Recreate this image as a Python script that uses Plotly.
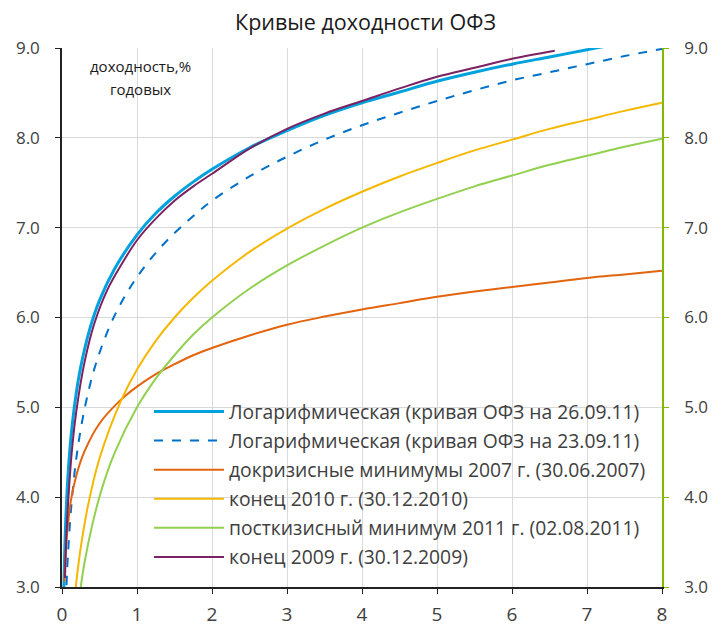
import plotly.graph_objects as go

# --- data (term in years, yield in % p.a.) ---
x_blue = [0.02, 0.03, 0.05, 0.08, 0.12, 0.18, 0.25, 0.37, 0.5, 0.7, 1, 1.25, 1.5, 1.75, 2, 2.5, 3, 3.5, 4, 4.5, 5, 5.5, 6, 6.5, 7, 7.5, 8]
y_blue = [2.77, 3.20, 3.74, 4.24, 4.67, 5.10, 5.45, 5.87, 6.19, 6.54, 6.92, 7.16, 7.35, 7.51, 7.65, 7.89, 8.08, 8.25, 8.39, 8.51, 8.63, 8.73, 8.82, 8.90, 8.98, 9.06, 9.12]

x_dash = [0.06, 0.08, 0.13, 0.2, 0.31, 0.45, 0.64, 0.8, 1, 1.25, 1.5, 1.75, 2, 2.5, 3, 3.5, 4, 4.5, 5, 5.5, 6, 6.5, 7, 7.5, 8]
y_dash = [3.02, 3.37, 3.96, 4.49, 5.02, 5.48, 5.91, 6.18, 6.45, 6.72, 6.94, 7.13, 7.30, 7.57, 7.79, 7.98, 8.14, 8.28, 8.41, 8.53, 8.64, 8.73, 8.82, 8.91, 8.99]

x_orange = [0.03, 0.05, 0.08, 0.12, 0.2, 0.3, 0.5, 0.78, 1, 1.25, 1.5, 1.75, 2, 2.5, 3, 3.5, 4, 4.5, 5, 5.5, 6, 6.5, 7, 7.5, 8]
y_orange = [3.06, 3.40, 3.70, 3.97, 4.27, 4.51, 4.82, 5.08, 5.23, 5.37, 5.48, 5.58, 5.66, 5.80, 5.92, 6.01, 6.09, 6.16, 6.23, 6.29, 6.34, 6.39, 6.44, 6.48, 6.52]

x_yellow = [0.18, 0.2, 0.25, 0.35, 0.5, 0.78, 1, 1.25, 1.5, 1.75, 2, 2.5, 3, 3.5, 4, 4.5, 5, 5.5, 6, 6.5, 7, 7.5, 8]
y_yellow = [2.97, 3.12, 3.44, 3.92, 4.43, 5.06, 5.42, 5.74, 6.00, 6.22, 6.41, 6.73, 6.99, 7.21, 7.40, 7.57, 7.72, 7.86, 7.98, 8.10, 8.20, 8.30, 8.39]

x_green = [0.25, 0.3, 0.4, 0.53, 0.7, 1, 1.25, 1.5, 1.75, 2, 2.5, 3, 3.5, 4, 4.5, 5, 5.5, 6, 6.5, 7, 7.5, 8]
y_green = [3.00, 3.27, 3.68, 4.09, 4.49, 5.00, 5.32, 5.58, 5.81, 6.00, 6.32, 6.58, 6.80, 7.00, 7.17, 7.32, 7.46, 7.58, 7.70, 7.80, 7.90, 7.99]

x_purple = [0.04, 0.06, 0.09, 0.13, 0.19, 0.3, 0.43, 0.6, 0.8, 1, 1.25, 1.5, 1.75, 2, 2.5, 3, 3.5, 4, 4.5, 5, 5.5, 6, 6.57]
y_purple = [3.10, 3.60, 4.05, 4.50, 4.95, 5.50, 5.93, 6.30, 6.60, 6.86, 7.10, 7.30, 7.46, 7.60, 7.88, 8.10, 8.27, 8.41, 8.55, 8.68, 8.78, 8.88, 8.97]

names = [
    "Логарифмическая (кривая ОФЗ на 26.09.11)",
    "Логарифмическая (кривая ОФЗ на 23.09.11)",
    "докризисные минимумы 2007 г. (30.06.2007)",
    "конец 2010 г. (30.12.2010)",
    "посткизисный минимум 2011 г. (02.08.2011)",
    "конец 2009 г. (30.12.2009)",
]
x_ticks = [0, 1, 2, 3, 4, 5, 6, 7, 8]
y_ticks = [3, 4, 5, 6, 7, 8, 9]

FONT = "Open Sans"
TXT = "#404040"

fig = go.Figure()
series = [
    (x_blue, y_blue, "#00A2DE", 3, "solid"),
    (x_dash, y_dash, "#0070C8", 2, "dash"),
    (x_orange, y_orange, "#E2640E", 2, "solid"),
    (x_yellow, y_yellow, "#F5B800", 2, "solid"),
    (x_green, y_green, "#92D050", 2, "solid"),
    (x_purple, y_purple, "#7A2262", 2, "solid"),
]
for i, ((xs, ys, col, w, dash), nm) in enumerate(zip(series, names)):
    fig.add_trace(go.Scatter(x=xs, y=ys, mode="lines", name=nm, legendgroup=f"g{i}",
                             line=dict(color=col, width=w, dash=dash, shape="spline", smoothing=1.0)))

# invisible trace for right axis
fig.add_trace(go.Scatter(x=[0, 8], y=[3, 9], yaxis="y2", mode="lines",
                         line=dict(width=0), showlegend=False, hoverinfo="skip", opacity=0))

fig.update_layout(
    width=715, height=620,
    margin=dict(l=54, r=61, t=40, b=41),
    paper_bgcolor="white", plot_bgcolor="white",
    font=dict(family=FONT, color=TXT, size=15),
    title=dict(text="Кривые доходности ОФЗ", x=0.5, xanchor="center", y=0.977, yanchor="middle",
               font=dict(family=FONT, size=21.5, color="#1a1a1a")),
    xaxis=dict(range=[0, 8], tickvals=x_ticks, showgrid=True, gridcolor="#d9d9d9", gridwidth=1,
               showline=True, linecolor="#222222", linewidth=1.5, ticks="outside", ticklen=5,
               tickcolor="#222222", zeroline=False, tickfont=dict(size=19, color=TXT),
               ticklabelstandoff=4, automargin=False),
    yaxis=dict(range=[3, 9], tickvals=y_ticks, tickformat=".1f", showgrid=True, gridcolor="#d9d9d9",
               gridwidth=1, showline=True, linecolor="#222222", linewidth=1.5, ticks="outside",
               ticklen=5, tickcolor="#222222", zeroline=False, tickfont=dict(size=17, color=TXT),
               ticklabelstandoff=12, automargin=False),
    yaxis2=dict(range=[3, 9], tickvals=y_ticks, tickformat=".1f", overlaying="y", side="right",
                showgrid=False, showline=True, linecolor="#7FBA00", linewidth=1.5, ticks="outside",
                ticklen=5, tickcolor="#7FBA00", zeroline=False, tickfont=dict(size=17, color=TXT),
                ticklabelstandoff=12, automargin=False),
    legend=dict(x=0.145, y=0.361, xanchor="left", yanchor="top", bgcolor="rgba(0,0,0,0)",
                font=dict(size=19.3, color=TXT), itemwidth=70, tracegroupgap=1),
    showlegend=True,
)

fig.add_annotation(text="доходность,%", xref="paper", yref="paper", x=0.13, y=0.967,
                   xanchor="center", yanchor="middle", showarrow=False,
                   font=dict(size=15, color="#1a1a1a", family=FONT))
fig.add_annotation(text="годовых", xref="paper", yref="paper", x=0.13, y=0.924,
                   xanchor="center", yanchor="middle", showarrow=False,
                   font=dict(size=15, color="#1a1a1a", family=FONT))

fig.write_html("out.html")
